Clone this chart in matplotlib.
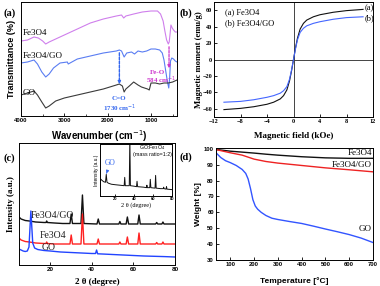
import matplotlib
matplotlib.use("Agg")
import matplotlib.pyplot as plt

SANS = "Liberation Sans"
SERIF = "Liberation Serif"

# ---------------- (a) FTIR ----------------
ir_fe3o4_wn = [4000, 3850, 3700, 3600, 3500, 3430, 3350, 3200, 3000, 2700, 2400, 2100, 1800,
               1680, 1630, 1580, 1400, 1200, 1000, 850, 780, 720, 680, 640, 600, 580, 560,
               540, 510, 480, 440, 400]
ir_fe3o4_t = [75, 76, 79, 78, 75, 72, 74, 77, 81, 87, 93, 97, 100,
              101, 98, 100, 102, 104, 105, 105, 102, 95, 85, 76, 72, 74, 82,
              91, 88, 86, 84, 84]

ir_fego_wn = [4000, 3850, 3700, 3620, 3520, 3430, 3350, 3250, 3100, 2930, 2910, 2700, 2400,
              2100, 1800, 1730, 1680, 1620, 1560, 1450, 1380, 1300, 1200, 1100, 1000, 900,
              800, 740, 700, 660, 620, 590, 570, 550, 520, 480, 440, 400]
ir_fego_t = [53, 54, 56, 52, 44, 39, 42, 48, 53, 54, 52, 57, 60,
             63, 65, 66, 65, 59, 63, 64, 62, 65, 64, 65, 67, 67,
             66, 63, 56, 45, 34, 28, 38, 55, 58, 57, 55, 54]

ir_go_wn = [4000, 3850, 3700, 3620, 3520, 3430, 3350, 3200, 3000, 2700, 2400, 2100, 1800,
            1730, 1660, 1620, 1580, 1500, 1400, 1300, 1220, 1150, 1080, 1040, 1000, 900,
            800, 700, 600, 500, 400]
ir_go_t = [21, 23, 25, 21, 14, 8, 10, 15, 18, 21, 24, 27, 31,
           32, 30, 24, 27, 30, 34, 31, 29, 28, 27, 26, 33, 33,
           32, 33, 33, 34, 36]

# ---------------- (b) magnetisation ----------------
mag_h = [-10.5, -8, -6, -4, -3, -2, -1.5, -1, -0.6, -0.3, 0, 0.3, 0.6, 1, 1.5, 2, 3, 4, 6, 8, 10.5]
mag_fe3o4 = [-61, -59.5, -57.5, -54.5, -52, -48, -44, -37, -26, -14, 0,
             14, 26, 37, 44, 48, 52, 54.5, 57.5, 59.5, 61]
mag_fego = [-52, -51, -49, -46, -44, -41, -38, -33, -24, -13, 0,
            13, 24, 33, 38, 41, 44, 46, 49, 51, 52]

# ---------------- (c) XRD ----------------
xrd_x = [5, 6, 8, 10, 13, 17, 18.0, 18.3, 18.6, 22, 26, 29.5, 30.1, 30.7, 34.8, 35.5, 36.2,
         42.5, 43.1, 43.7, 53.0, 53.5, 54.0, 56.5, 57.1, 57.7, 62.1, 62.7, 63.3, 70.7, 71.2,
         71.7, 73.7, 74.2, 74.7, 80]
xrd_fego = [48, 46, 44.5, 44, 43, 42.5, 42.5, 44, 42.5, 42, 41.5, 41.5, 51, 41.5, 41.5, 70, 41.5,
            41, 46, 41, 41, 43.5, 41, 41, 48, 41, 41, 50, 41, 41, 42.5,
            41, 41, 43, 41, 41]
xrd_fe3o4 = [27, 25, 23.5, 23, 22, 21.5, 21.5, 23, 21.5, 21, 21, 21, 30, 21, 21, 51, 21,
             21, 26, 21, 21, 23, 21, 21, 28, 21, 21, 32, 21, 21, 22.5,
             21, 21, 23, 21, 21]
xrd_go_x = [5, 6, 7, 8, 9, 9.8, 10.3, 10.7, 11.1, 11.6, 12.5, 14, 17, 20, 25, 30, 35, 40,
            41.8, 42.3, 42.8, 45, 50, 55, 60, 65, 70, 75, 80]
xrd_go = [16, 15, 14, 13.5, 14, 18, 38, 54, 40, 22, 17, 15.5, 14.5, 14, 13, 12.5, 12, 11.5,
          11.5, 15, 11.2, 11, 10.5, 10, 9.5, 9, 8.7, 8.4, 8]

inset_x = [5, 6, 8, 9.8, 10.6, 11.4, 13, 16, 20, 25, 29.5, 30.1, 30.7, 34.9, 35.5, 36.1, 40,
           42.5, 43.1, 43.7, 50, 53.0, 53.5, 54.0, 56.5, 57.1, 57.7, 62.1, 62.7, 63.3, 68,
           70.8, 71.2, 71.6, 73.7, 74.2, 74.7, 80]
inset_y = [17, 16, 14.5, 14, 22, 14, 13, 12, 11.5, 11, 10.5, 19, 10.5, 10.5, 60, 10.5, 10,
           9.5, 15, 9.5, 9, 8.5, 11, 8.5, 8.5, 17, 8.5, 8, 21, 8, 7.5,
           7.5, 9, 7.5, 7, 9.5, 7, 6.5]

# ---------------- (d) TGA ----------------
tga_t = [40, 100, 150, 200, 250, 300, 400, 500, 600, 700]
tga_fe3o4 = [99.6, 98.5, 97.9, 97.3, 96.6, 96.0, 95.0, 94.3, 94.0, 94.0]
tga_fego = [99.5, 97.5, 96.0, 93.5, 92.0, 91.0, 89.5, 88.0, 86.8, 85.5]
tga_go_t = [40, 60, 80, 100, 125, 150, 165, 175, 185, 195, 205, 215, 230, 250, 275, 300,
            350, 400, 450, 500, 550, 600, 650, 700]
tga_go = [97.5, 94.5, 92.5, 91.3, 89.5, 87, 84.5, 81, 75, 68, 64, 62, 60, 58, 56.3, 55.5,
          54.2, 53, 51.3, 49.5, 47.8, 46, 43.8, 41]

W, H = 380, 286
fig = plt.figure(figsize=(3.8, 2.86), dpi=100)


def box(l, t, r, b):
    return [l / W, 1 - b / H, (r - l) / W, (b - t) / H]


def style(ax, family, size=4.2):
    for s in ax.spines.values():
        s.set_linewidth(0.7)
    ax.tick_params(direction="in", length=2, width=0.6, labelsize=size, pad=1.5)
    for lab in ax.get_xticklabels() + ax.get_yticklabels():
        lab.set_fontfamily(family)
        lab.set_fontweight("bold")


# (a)
ax = fig.add_axes(box(21, 2, 177, 116))
ax.plot(ir_fe3o4_wn, ir_fe3o4_t, color="#cf7fec", lw=0.8)
ax.plot(ir_fego_wn, ir_fego_t, color="#5a7df2", lw=0.8)
ax.plot(ir_go_wn, ir_go_t, color="#3a3a3a", lw=0.8)
ax.set_xlim(4000, 400)
ax.set_ylim(0, 114)
ax.set_yticks([])
ax.set_xticks([4000, 3000, 2000, 1000])
ax.set_xticks([3500, 2500, 1500, 500], minor=True)
style(ax, SANS)
ax.tick_params(which="minor", direction="in", length=1.2, width=0.5)
ax.set_xlabel("Wavenumber (cm$^{-1}$)", fontfamily=SANS, fontweight="bold", fontsize=7)
ax.xaxis.set_label_coords(0.5, -0.11)
ax.set_ylabel("Transmittance (%)", fontfamily=SANS, fontweight="bold", fontsize=6.5)
ax.yaxis.set_label_coords(-0.03, 0.5)
ax.text(3970, 83, "Fe3O4", fontfamily=SERIF, fontsize=6.5, va="center")
ax.text(3970, 60, "Fe3O4/GO", fontfamily=SERIF, fontsize=6.5, va="center")
ax.text(3970, 23, "GO", fontfamily=SERIF, fontsize=6.5, va="center")
ax.annotate("", xy=(1730, 29), xytext=(1730, 66),
            arrowprops=dict(arrowstyle="-|>", ls=(0, (2, 1)), color="#3366ee", lw=1.0,
                            mutation_scale=4))
ax.text(1730, 18, "C=O", color="#3366ee", fontfamily=SERIF, fontweight="bold",
        fontsize=5, ha="center", va="center")
ax.text(1730, 8, "1730 cm$^{-1}$", color="#3366ee", fontfamily=SERIF, fontweight="bold",
        fontsize=5, ha="center", va="center")
ax.annotate("", xy=(584, 45), xytext=(584, 72),
            arrowprops=dict(arrowstyle="-|>", ls=(0, (2, 1)), color="#cc33cc", lw=0.9,
                            mutation_scale=4))
ax.text(860, 44, "Fe-O", color="#cc33cc", fontfamily=SERIF, fontweight="bold",
        fontsize=5, ha="center", va="center")
ax.text(780, 36, "584 cm$^{-1}$", color="#cc33cc", fontfamily=SERIF, fontweight="bold",
        fontsize=5, ha="center", va="center")

# (b)
ax = fig.add_axes(box(214, 2, 373, 117))
ax.axhline(0, color="#444444", lw=0.7)
ax.axvline(0, color="#444444", lw=0.7)
ax.plot(mag_h, mag_fe3o4, color="#111111", lw=0.8)
ax.plot(mag_h, mag_fego, color="#4466ff", lw=0.8)
ax.set_xlim(-12, 12)
ax.set_ylim(-70, 70)
ax.set_xticks(range(-12, 13, 4))
ax.set_yticks(range(-60, 61, 20))
style(ax, SERIF, 4.5)
ax.set_xlabel("Magnetic field (kOe)", fontfamily=SERIF, fontweight="bold", fontsize=6.5)
ax.xaxis.set_label_coords(0.5, -0.13)
ax.set_ylabel("Magnetic moment (emu/g)", fontfamily=SERIF, fontweight="bold", fontsize=6.2)
ax.yaxis.set_label_coords(-0.07, 0.5)
ax.text(-10.3, 57, "(a) Fe3O4", fontfamily=SERIF, fontsize=6, va="center")
ax.text(-10.3, 44, "(b) Fe3O4/GO", fontfamily=SERIF, fontsize=6, va="center")
ax.text(10.7, 62, "(a)", fontfamily=SERIF, fontsize=6, va="center")
ax.text(10.7, 50, "(b)", fontfamily=SERIF, fontsize=6, va="center")

# (c)
ax = fig.add_axes(box(19, 143, 175, 265))
ax.plot(xrd_x, xrd_fego, color="#111111", lw=1.0)
ax.plot(xrd_x, xrd_fe3o4, color="#ff2222", lw=1.0)
ax.plot(xrd_go_x, xrd_go, color="#2244ff", lw=1.0)
ax.set_xlim(5, 80)
ax.set_ylim(0, 122)
ax.set_yticks([])
ax.set_xticks([20, 40, 60, 80])
style(ax, SANS, 4.5)
ax.set_xlabel("2 θ (degree)", fontfamily=SERIF, fontweight="bold", fontsize=6.5)
ax.xaxis.set_label_coords(0.5, -0.105)
ax.set_ylabel("Intensity (a.u.)", fontfamily=SERIF, fontweight="bold", fontsize=6.5)
ax.yaxis.set_label_coords(-0.026, 0.5)
ax.text(10.5, 50, "Fe3O4/GO", fontfamily=SERIF, fontsize=7, va="center", color="#222222")
ax.text(15, 29, "Fe3O4", fontfamily=SERIF, fontsize=7, va="center", color="#222222")
ax.text(16, 18, "GO", fontfamily=SERIF, fontsize=7, va="center", color="#222222")

ins = fig.add_axes(box(100, 144, 172, 196))
ins.plot(inset_x, inset_y, color="#111111", lw=0.7)
ins.set_xlim(4, 80)
ins.set_ylim(0, 53)
ins.set_yticks([])
ins.set_xticks([20, 40, 60, 80])
style(ins, SANS, 3)
ins.tick_params(length=1.2, pad=1)
ins.set_xlabel("2 θ (degree)", fontfamily=SERIF, fontsize=4.5, labelpad=0.5)
ins.set_ylabel("Intensity (a.u.)", fontfamily=SANS, fontsize=3.5, labelpad=1)
ins.text(0.73, 0.93, "GO:Fe$_3$O$_4$", transform=ins.transAxes, fontfamily=SANS,
         fontsize=3.8, ha="center", va="center")
ins.text(0.73, 0.79, "(mass ratio=1:2)", transform=ins.transAxes, fontfamily=SANS,
         fontsize=3.8, ha="center", va="center")
ins.annotate("GO", xy=(10.8, 23), xytext=(15, 34), color="#3366ee", fontfamily=SERIF,
             fontsize=5.5, ha="center", va="center",
             arrowprops=dict(arrowstyle="-|>", color="#3366ee", lw=0.7, mutation_scale=4,
                             shrinkA=3, shrinkB=0))

# (d)
ax = fig.add_axes(box(216, 148, 373, 260))
ax.plot(tga_t, tga_fe3o4, color="#111111", lw=1.0)
ax.plot(tga_t, tga_fego, color="#ee2222", lw=1.0)
ax.plot(tga_go_t, tga_go, color="#3355ff", lw=1.0)
ax.set_xlim(40, 700)
ax.set_ylim(30, 100.5)
ax.set_xticks(range(100, 701, 100))
ax.set_yticks(range(30, 101, 10))
style(ax, SANS, 4.2)
ax.set_xlabel("Temperature [°C]", fontfamily=SANS, fontweight="bold", fontsize=6)
ax.xaxis.set_label_coords(0.5, -0.15)
ax.set_ylabel("Weight [%]", fontfamily=SANS, fontweight="bold", fontsize=6)
ax.yaxis.set_label_coords(-0.09, 0.5)
ax.text(695, 97.2, "Fe3O4", fontfamily=SERIF, fontsize=6.5, ha="right", va="center")
ax.text(695, 89.8, "Fe3O4/GO", fontfamily=SERIF, fontsize=6.5, ha="right", va="center")
ax.text(695, 49.5, "GO", fontfamily=SERIF, fontsize=6.5, ha="right", va="center")

# panel letters
for px, py, lab in [(3, 13, "(a)"), (180, 13, "(b)"), (3, 158, "(c)"), (180, 157, "(d)")]:
    fig.text(px / W, 1 - py / H, lab, fontfamily=SERIF, fontweight="bold", fontsize=7.5,
             va="center")

fig.savefig("out.png", dpi=100)
